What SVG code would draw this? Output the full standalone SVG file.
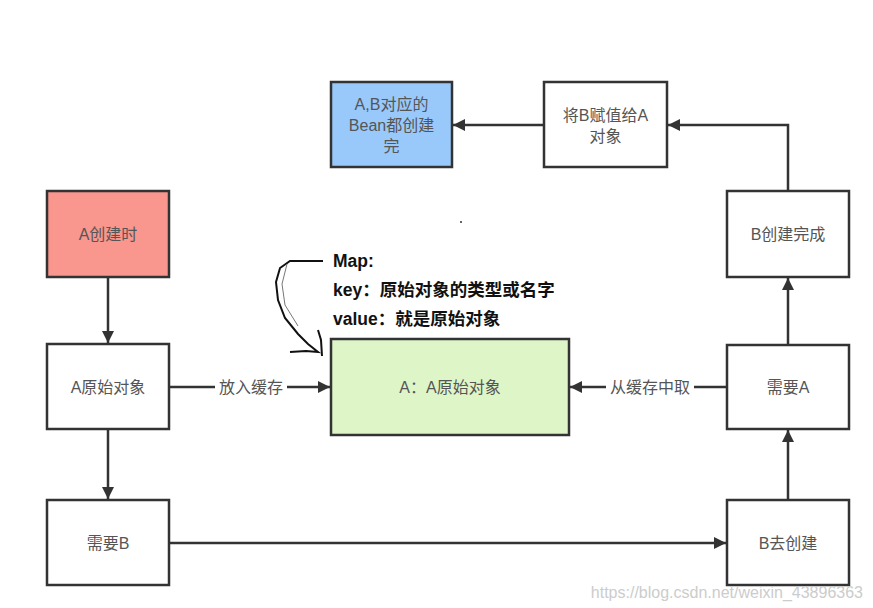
<svg xmlns="http://www.w3.org/2000/svg" width="873" height="608" viewBox="0 0 873 608">
<defs>
<marker id="ah" viewBox="0 0 10 10" refX="10" refY="5" markerWidth="12" markerHeight="12" markerUnits="userSpaceOnUse" orient="auto">
<path d="M0,0 L10,5 L0,10 z" fill="#333"/>
</marker>
<style>
.box{stroke:#333;stroke-width:2.5}
.t{font-family:"Liberation Sans","Noto Sans CJK SC",sans-serif;font-size:16px;fill:#555;text-anchor:middle}
.c{fill:none;stroke:#333;stroke-width:2.5;marker-end:url(#ah)}
.lbl{font-family:"Liberation Sans","Noto Sans CJK SC",sans-serif;font-size:16px;fill:#555;text-anchor:middle}
.note{font-family:"Liberation Sans","Noto Sans CJK SC",sans-serif;font-size:17.5px;font-weight:bold;fill:#111}
</style>
</defs>
<rect width="873" height="608" fill="#fff"/>
<g id="connectors">
<path class="c" d="M108,277 V343"/>
<path class="c" d="M108,429 V499"/>
<path class="c" d="M169,543 H726"/>
<path class="c" d="M788,500 V430"/>
<path class="c" d="M788,345 V278"/>
<path class="c" d="M788,191 V125 H668"/>
<path class="c" d="M544,125 H453"/>
<path class="c" d="M169,387 H330"/>
<path class="c" d="M727,387 H570"/>
<rect x="215" y="376" width="72" height="22" fill="#fff"/>
<text class="lbl" x="251" y="393">放入缓存</text>
<rect x="606" y="376" width="88" height="22" fill="#fff"/>
<text class="lbl" x="650" y="393">从缓存中取</text>
</g>
<g id="n-bean">
<rect class="box" x="331" y="82" width="121" height="85" fill="#99c9fb"/>
<text class="t" x="391.5" y="110">A,B对应的</text>
<text class="t" x="391.5" y="131">Bean都创建</text>
<text class="t" x="391.5" y="152">完</text>
</g>
<g id="n-assign">
<rect class="box" x="544" y="82" width="123" height="85" fill="#fff"/>
<text class="t" x="605.5" y="121">将B赋值给A</text>
<text class="t" x="605.5" y="142">对象</text>
</g>
<g id="n-acreate">
<rect class="box" x="47" y="191" width="122" height="86" fill="#f9968d"/>
<text class="t" x="108" y="240">A创建时</text>
</g>
<g id="n-araw">
<rect class="box" x="47" y="344" width="122" height="85" fill="#fff"/>
<text class="t" x="108" y="393">A原始对象</text>
</g>
<g id="n-cache">
<rect class="box" x="331" y="339" width="238" height="96" fill="#def5c8"/>
<text class="t" x="450" y="393">A：A原始对象</text>
</g>
<g id="n-needb">
<rect class="box" x="47" y="500" width="122" height="85" fill="#fff"/>
<text class="t" x="108" y="549">需要B</text>
</g>
<g id="n-bcreate">
<rect class="box" x="727" y="500" width="122" height="85" fill="#fff"/>
<text class="t" x="788" y="549">B去创建</text>
</g>
<g id="n-needa">
<rect class="box" x="727" y="345" width="122" height="84" fill="#fff"/>
<text class="t" x="788" y="393">需要A</text>
</g>
<g id="n-bdone">
<rect class="box" x="727" y="191" width="122" height="86" fill="#fff"/>
<text class="t" x="788" y="240">B创建完成</text>
</g>
<g id="annotation">
<path d="M323,261 L290,261 L280,268 L276,282 L278,300 L285,318 L298,334 L308,344 L318,352 L306,351 L290,352" fill="none" stroke="#111" stroke-width="2"/>
<path d="M318,330 L321,340 L322,356" fill="none" stroke="#111" stroke-width="2"/>
<path d="M287,264 L282,284 L285,305 L298,326" fill="none" stroke="#777" stroke-width="1"/>
<text class="note" x="333" y="267">Map:</text>
<text class="note" x="333" y="296">key：原始对象的类型或名字</text>
<text class="note" x="333" y="325">value：就是原始对象</text>
<circle cx="461" cy="222" r="1" fill="#333"/>
</g>
<text x="863" y="598" text-anchor="end" font-family="Liberation Sans, sans-serif" font-size="16" fill="#ccc">https://blog.csdn.net/weixin_43896363</text>
</svg>
